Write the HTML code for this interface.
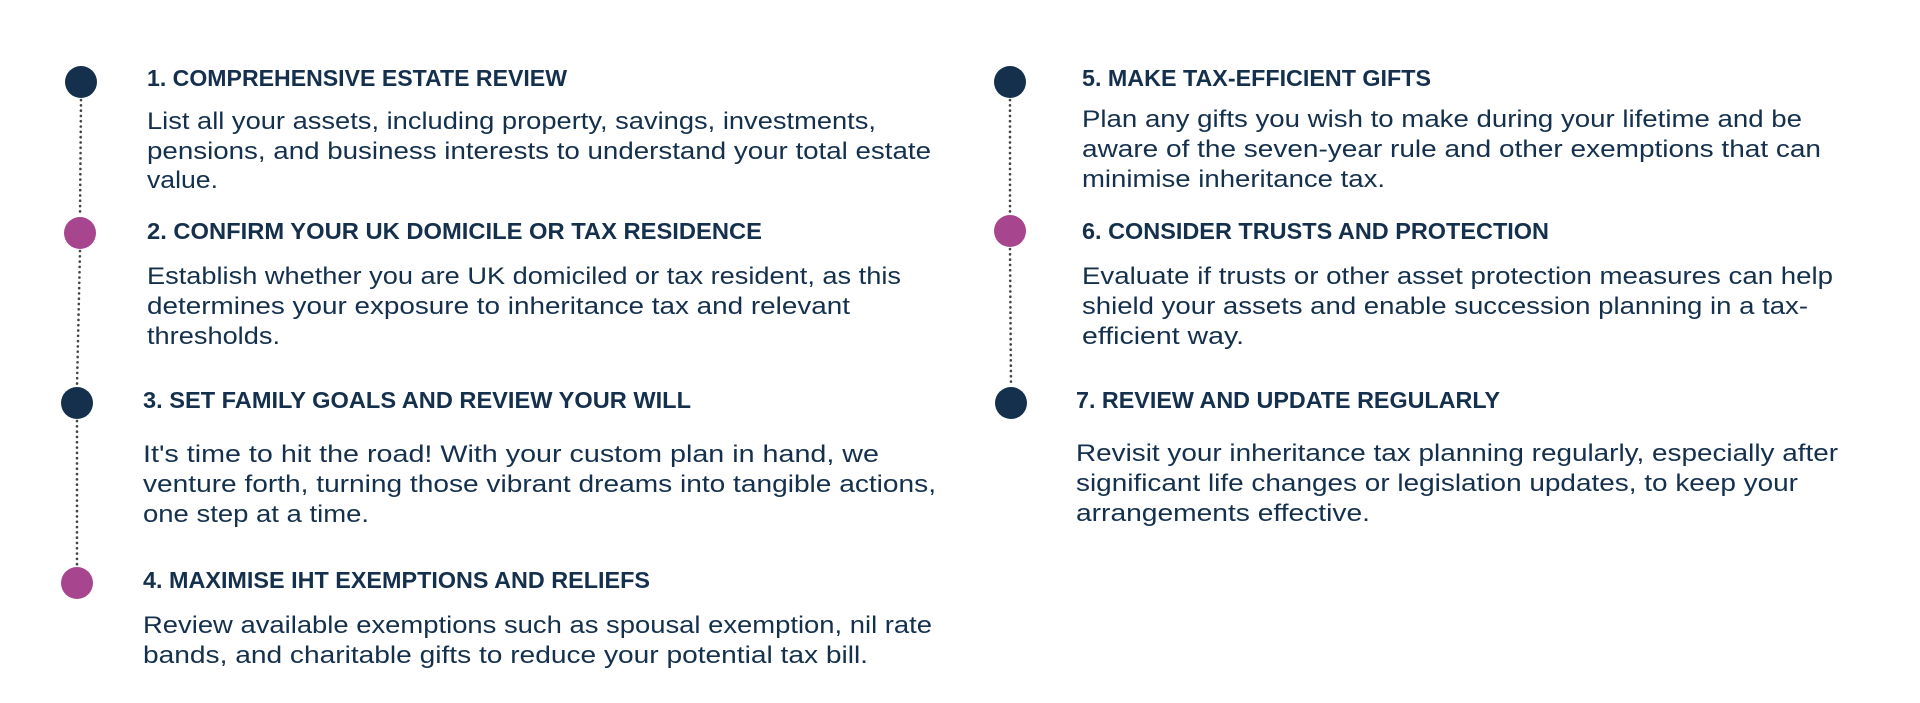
<!DOCTYPE html>
<html><head><meta charset="utf-8"><style>
html,body{margin:0;padding:0;background:#fff;width:1920px;height:703px;overflow:hidden}
svg{display:block}
.h{font-family:"Liberation Sans",sans-serif;font-weight:bold;font-size:23.5px;fill:#14304d}
.b{font-family:"Liberation Sans",sans-serif;font-size:24px;fill:#14304d}
</style></head><body>
<svg width="1920" height="703" xmlns="http://www.w3.org/2000/svg">
<g stroke="#444" stroke-width="2.6" stroke-dasharray="0.1 5.2" stroke-linecap="round">
<line x1="81" y1="100" x2="80" y2="216"/>
<line x1="80" y1="251" x2="77" y2="386"/>
<line x1="77" y1="421" x2="77" y2="566"/>
<line x1="1010" y1="100" x2="1010" y2="214"/>
<line x1="1010" y1="249" x2="1011" y2="386"/>
</g>
<circle cx="81" cy="82" r="16" fill="#14304d"/>
<circle cx="80" cy="233" r="16" fill="#a8458f"/>
<circle cx="77" cy="403" r="16" fill="#14304d"/>
<circle cx="77" cy="583" r="16" fill="#a8458f"/>
<circle cx="1010" cy="82" r="16" fill="#14304d"/>
<circle cx="1010" cy="231" r="16" fill="#a8458f"/>
<circle cx="1011" cy="403" r="16" fill="#14304d"/>

<text class="h" x="147" y="86" textLength="420" lengthAdjust="spacingAndGlyphs">1. COMPREHENSIVE ESTATE REVIEW</text>
<text class="b" x="147" y="129" textLength="729" lengthAdjust="spacingAndGlyphs">List all your assets, including property, savings, investments,</text>
<text class="b" x="147" y="159" textLength="784" lengthAdjust="spacingAndGlyphs">pensions, and business interests to understand your total estate</text>
<text class="b" x="147" y="188" textLength="71" lengthAdjust="spacingAndGlyphs">value.</text>

<text class="h" x="147" y="239" textLength="615" lengthAdjust="spacingAndGlyphs">2. CONFIRM YOUR UK DOMICILE OR TAX RESIDENCE</text>
<text class="b" x="147" y="284" textLength="754" lengthAdjust="spacingAndGlyphs">Establish whether you are UK domiciled or tax resident, as this</text>
<text class="b" x="147" y="314" textLength="703" lengthAdjust="spacingAndGlyphs">determines your exposure to inheritance tax and relevant</text>
<text class="b" x="147" y="344" textLength="133" lengthAdjust="spacingAndGlyphs">thresholds.</text>

<text class="h" x="143" y="408" textLength="548" lengthAdjust="spacingAndGlyphs">3. SET FAMILY GOALS AND REVIEW YOUR WILL</text>
<text class="b" x="143" y="462" textLength="736" lengthAdjust="spacingAndGlyphs">It's time to hit the road! With your custom plan in hand, we</text>
<text class="b" x="143" y="492" textLength="793" lengthAdjust="spacingAndGlyphs">venture forth, turning those vibrant dreams into tangible actions,</text>
<text class="b" x="143" y="522" textLength="226" lengthAdjust="spacingAndGlyphs">one step at a time.</text>

<text class="h" x="143" y="588" textLength="507" lengthAdjust="spacingAndGlyphs">4. MAXIMISE IHT EXEMPTIONS AND RELIEFS</text>
<text class="b" x="143" y="633" textLength="789" lengthAdjust="spacingAndGlyphs">Review available exemptions such as spousal exemption, nil rate</text>
<text class="b" x="143" y="663" textLength="725" lengthAdjust="spacingAndGlyphs">bands, and charitable gifts to reduce your potential tax bill.</text>

<text class="h" x="1082" y="86" textLength="349" lengthAdjust="spacingAndGlyphs">5. MAKE TAX-EFFICIENT GIFTS</text>
<text class="b" x="1082" y="127" textLength="720" lengthAdjust="spacingAndGlyphs">Plan any gifts you wish to make during your lifetime and be</text>
<text class="b" x="1082" y="157" textLength="739" lengthAdjust="spacingAndGlyphs">aware of the seven-year rule and other exemptions that can</text>
<text class="b" x="1082" y="187" textLength="303" lengthAdjust="spacingAndGlyphs">minimise inheritance tax.</text>

<text class="h" x="1082" y="239" textLength="467" lengthAdjust="spacingAndGlyphs">6. CONSIDER TRUSTS AND PROTECTION</text>
<text class="b" x="1082" y="284" textLength="751" lengthAdjust="spacingAndGlyphs">Evaluate if trusts or other asset protection measures can help</text>
<text class="b" x="1082" y="314" textLength="726" lengthAdjust="spacingAndGlyphs">shield your assets and enable succession planning in a tax-</text>
<text class="b" x="1082" y="344" textLength="162" lengthAdjust="spacingAndGlyphs">efficient way.</text>

<text class="h" x="1076" y="408" textLength="424" lengthAdjust="spacingAndGlyphs">7. REVIEW AND UPDATE REGULARLY</text>
<text class="b" x="1076" y="461" textLength="762" lengthAdjust="spacingAndGlyphs">Revisit your inheritance tax planning regularly, especially after</text>
<text class="b" x="1076" y="491" textLength="722" lengthAdjust="spacingAndGlyphs">significant life changes or legislation updates, to keep your</text>
<text class="b" x="1076" y="521" textLength="294" lengthAdjust="spacingAndGlyphs">arrangements effective.</text>
</svg>
</body></html>
